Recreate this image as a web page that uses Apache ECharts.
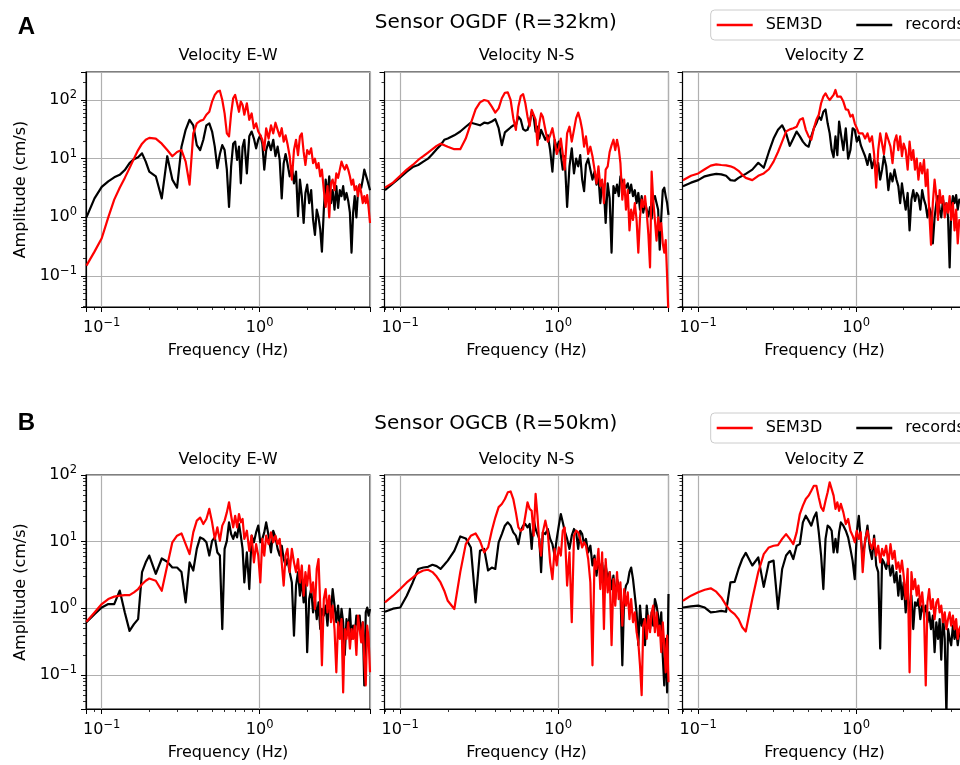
<!DOCTYPE html>
<html><head><meta charset="utf-8">
<script src="https://cdn.jsdelivr.net/npm/echarts@6/dist/echarts.min.js"></script>
<style>html,body{margin:0;padding:0;background:#fff}#c{width:960px;height:765px}</style>
</head><body><div id="c"></div>
<script>
const freq = [0.08,0.09,0.10,0.11,0.12,0.13,0.14,0.15,0.16,0.17,0.18,0.19,0.20,
 0.22,0.24,0.26,0.28,0.30,0.32,0.34,0.36,0.38,0.40,0.42,0.44,0.46,0.48,0.50,0.52,0.54,0.56,0.58,0.60,0.62,0.64,0.66,0.68,0.70,0.72,0.74,0.76,0.78,0.80,
 0.83,0.86,0.89,0.92,0.95,0.98,1.01,1.04,1.07,1.10,
 1.14,1.18,1.22,1.26,1.30,1.34,1.38,1.42,1.46,1.50,
 1.55,1.60,1.65,1.70,1.75,1.80,1.85,1.90,1.95,2.00,
 2.06,2.12,2.18,2.24,2.30,2.36,2.42,2.48,
 2.55,2.62,2.69,2.76,2.83,2.90,
 2.98,3.06,3.14,3.22,3.30,3.38,3.46,
 3.55,3.64,3.73,3.82,3.91,4.00,
 4.10,4.20,4.30,4.40,4.50,4.60,4.70,4.80,4.90,5.00];
const ogdfEWrec = [1.0,2.1,3.3,4.1,4.8,5.3,6.4,8.4,9.8,10.6,12.3,8.9,6.0,
 5.0,2.1,11,4.4,3.2,16,31,46,37,17,14,21,37,40,29,16,6.9,12,17,14,6.5,1.5,7.4,18,19.5,9.5,16,3.8,16,21,
 5.6,24,29,22,15,21,25,18,6.5,14,
 19.5,14,21,11,16,9.5,2.1,8.3,12,8.3,
 5.0,7.4,3.8,6.0,1.05,4.4,2.3,0.8,2.6,3.6,
 1.75,2.9,0.91,0.5,1.35,1.0,0.62,0.26,
 1.35,4.4,2.3,5.0,1.75,2.9,
 1.35,3.4,1.45,2.9,2.3,3.4,2.0,
 2.6,1.9,1.2,0.25,1.2,2.3,
 1.0,2.9,3.6,3.2,4.4,6.5,6.5,4.4,4.7,2.9];
const ogdfEWsem = [0.15,0.26,0.44,1.0,2.0,3.2,4.7,6.9,10,14,18,21,22.6,
 22,18,14,11,13,14,8.9,3.6,27,40,44,46,56,63,94,122,139,144,100,59,27,24,59,107,122,88,63,94,82,56,
 88,46,59,33,40,29,25,21,14,33,
 22,37,27,41,31,24,33,19.5,25,18,
 11,4.4,14,21,11.5,24,27,13,7.8,14,
 12,15,8.4,10,6.9,8.4,5.0,6.5,
 2.9,1.5,3.4,1.0,3.8,4.4,
 2.9,5.6,4.7,6.5,8.9,7.4,6.5,
 7.8,6.5,5.0,3.6,4.4,2.9,
 3.4,2.3,3.6,2.6,1.75,2.3,1.75,2.4,1.45,0.8];
const ogdfNSrec = [2.9,3.8,4.8,6.0,7.2,7.8,8.9,10,12,14.5,17,21,22,
 25,29,35,41,39,37,41,40,43,47,33,17,28,31,34,37,37,52,46,32,30,31,40,63,52,29,35,22,31,33,
 21,25,14,6.0,21,15,19.5,11.5,6.5,11,
 1.5,7.4,15,5.6,10,7.4,11.5,4.4,2.8,7.8,
 10,6.5,4.4,6.0,3.6,5.0,1.75,3.8,2.9,0.8,
 3.8,2.1,0.25,3.4,2.6,3.6,2.3,5.0,
 4.1,4.4,3.2,3.8,2.6,3.6,
 2.3,2.9,1.75,2.6,1.35,2.3,1.2,
 1.75,1.35,1.04,1.5,0.95,2.0,
 2.3,1.75,1.35,0.28,1.0,2.9,3.2,2.3,1.75,1.1];
const ogdfNSsem = [3.2,3.9,5.1,6.5,7.8,9.5,11,12.7,14.5,16.5,18,17,16,
 14.5,14.5,22,40,69,91,100,96,77,61,72,107,133,135,100,49,31,77,117,126,88,52,36,68,69,46,17,40,59,52,
 31,19.5,25,33,21,12,15,22,12,6.5,
 27,35,19.5,31,49,61,46,31,16,24,
 12,16,11,6.5,3.8,7.4,3.4,4.4,1.75,6.5,
 7.4,13,17,21,14,21,15,8.4,
 2.0,4.4,1.35,2.9,0.6,1.35,
 0.9,1.75,0.9,0.25,1.0,2.0,1.5,
 2.3,1.2,0.5,0.14,6.0,2.0,
 0.9,0.4,1.0,0.6,0.8,0.36,0.25,0.41,0.1,0.02];
const ogdfZrec = [3.4,3.9,4.3,5.0,5.3,5.5,5.4,5.1,4.3,4.2,4.7,5.1,5.5,
 6.5,8.5,7.0,13,22,31,37,27,16.5,22,29,24,19.5,17,16,24,33,40,52,46,63,69,40,27,14,10.6,24,11.5,43,27,
 14,33,10,14,33,31,19.5,24,17,14,
 11,7.8,12,6.9,9.5,6.5,8.4,4.4,6.5,11,
 7.4,2.9,5.6,4.1,6.5,4.4,3.4,1.75,3.8,2.3,
 1.35,2.6,0.6,2.0,2.9,1.9,2.6,2.3,
 1.35,2.9,2.0,1.6,1.0,1.5,
 1.2,0.36,1.0,1.75,2.3,1.35,1.0,
 2.0,1.35,1.75,1.0,0.14,1.35,
 2.3,1.75,2.4,1.35,2.0,1.8,1.5,2.0,1.6,1.4];
const ogdfZsem = [4.3,5.1,5.6,6.6,7.6,8.0,7.8,7.7,7.4,6.9,6.2,5.3,4.7,
 4.3,5.1,5.6,6.6,8.9,13,19.5,29,31.6,33,35,46,49,31,24,21,33,46,56,88,114,130,111,100,94,122,148,114,107,114,
 94,69,68,52,56,40,33,27,25,27,
 22,27,19.5,24,12,3.2,14,27,18,12,
 27,21,16,8.4,19.5,25,14,24,11,18,
 14,6.5,19.5,9.5,14,6.5,10,4.4,
 8.4,5.6,9.5,3.4,6.5,1.35,
 0.34,1.75,4.4,2.3,0.9,2.9,1.75,
 2.3,1.0,1.75,1.2,2.3,0.9,
 1.75,0.6,1.35,0.36,0.9,0.8,1.1,0.7,0.9,0.6];
const ogcbEWrec = [0.62,0.82,1.03,1.16,1.16,1.85,0.87,0.46,0.58,0.69,3.5,4.9,6.2,
 3.3,5.6,5.0,4.1,4.1,3.5,1.23,4.9,3.7,7.8,11.6,11,9.8,6.2,10.3,11.6,6.9,6.2,0.49,7.8,10.3,19.5,13,11,13.8,11.6,18.4,12.3,7.8,2.45,
 6.9,1.95,12.3,9.8,13.8,17.4,9.8,11,13.8,19.5,
 12.3,6.9,14.6,11.6,7.8,6.2,8.7,5.5,4.4,5.5,
 3.5,2.45,0.39,2.2,3.5,1.55,2.75,1.23,2.45,0.22,
 1.38,1.95,0.87,1.38,0.69,1.23,0.49,0.98,
 0.78,1.1,0.55,1.38,0.87,1.95,
 1.1,0.62,1.1,0.44,0.98,0.62,0.2,
 0.69,0.44,0.98,0.35,0.55,0.39,
 0.78,0.55,0.78,0.35,0.62,0.07,0.87,1.03,0.78,0.98];
const ogcbEWsem = [0.63,0.87,1.16,1.38,1.5,1.55,1.58,1.58,1.74,1.95,2.3,2.6,2.8,
 2.6,1.84,4.4,9.8,12.3,13.3,9.2,6.5,13.8,20.7,23,18.4,21.9,31,19.5,11,16.4,10.3,17.4,20.7,27.5,39,24.5,16.4,24.5,16.4,26,19.5,21.9,11,
 14.6,7.3,12.3,4.9,9.2,6.2,2.45,11,6.2,12.3,
 9.2,13.8,9.8,12.3,9.2,11,4.9,2.2,6.2,7.8,
 3.5,7.8,4.9,3.5,5.5,2.45,4.4,1.55,3.5,2.2,
 4.4,1.74,2.45,0.98,3.9,5.5,1.1,0.14,
 1.38,1.95,0.87,1.55,0.62,1.1,
 0.49,0.11,0.62,0.35,0.69,0.055,0.49,
 0.35,0.62,0.25,0.49,0.35,0.55,
 0.2,0.78,0.82,0.31,0.62,0.17,0.07,0.55,0.35,0.11];
const ogcbNSrec = [0.89,0.99,1.03,1.55,2.45,3.9,4.1,4.2,4.5,4.3,3.9,4.5,5.2,
 7.3,12,11.2,8.2,1.23,7.3,7.8,3.7,4.1,3.9,9.8,13,17.4,19.5,17.4,13.8,12.3,9.2,14.6,17.4,18.4,16.4,18.4,7.8,21.9,15.5,13,11,3.5,13.8,
 13,15.5,11,9.2,6.2,11,17.4,26,19.5,14.6,
 11,7.8,12.3,15.5,13.8,7.8,14.6,13,9.2,11,
 6.9,8.7,4.4,6.2,3.1,5.5,3.5,4.9,2.45,4.4,
 2.75,3.5,1.95,3.1,1.38,2.75,2.2,1.95,
 0.14,1.55,2.2,2.45,3.5,4.1,
 2.75,1.55,0.87,0.28,1.1,0.55,0.69,
 0.28,1.1,0.62,0.49,0.87,0.55,
 1.38,1.1,0.78,0.44,0.87,0.19,0.07,0.35,0.055,1.64];
const ogcbNSsem = [1.23,1.55,1.95,2.45,2.9,3.4,3.7,3.8,3.5,3.0,2.45,1.84,1.3,
 0.98,3.5,9.2,12.3,13.3,10.3,6.9,8.2,14.6,23,33,36.7,43.6,55,56.6,43.6,27.5,16.4,14.6,15.5,24.5,39,31,29,12.3,52,24.5,9.2,6.2,13.8,
 20.7,13.8,4.9,2.75,7.8,4.4,8.2,6.2,14.6,16.4,
 2.2,6.9,0.62,12.3,14.6,13.8,11,8.2,9.8,8.7,
 5.5,2.45,0.14,5.5,3.9,7.8,1.95,6.9,0.49,5.5,
 1.74,3.5,0.28,2.75,1.1,3.5,1.38,2.45,
 0.55,1.95,1.1,1.74,0.69,1.38,
 0.62,0.87,0.44,0.31,0.14,0.05,0.55,
 0.69,0.35,0.78,0.44,0.87,1.1,
 0.44,0.87,0.39,0.55,0.22,0.62,0.28,0.11,0.39,0.078];
const ogcbZrec = [1.03,1.07,1.1,1.03,0.87,0.89,0.92,0.89,2.45,2.5,3.9,5.5,6.8,
 4.4,5.8,2.1,4.9,5.2,0.98,3.9,6.2,7.3,5.5,8.7,9.2,19.5,24.5,20.7,17.4,23,27.5,13.8,6.2,1.95,11,17.4,16.4,14.6,6.9,11,6.9,13.8,19.5,
 17.4,14.6,11.6,7.8,5.2,2.75,13.8,24.5,11,6.2,
 9.8,17.4,7.8,5.5,12.3,4.4,3.5,0.25,5.5,4.9,
 3.9,5.5,3.1,4.4,2.45,3.5,1.55,3.1,1.38,2.45,
 0.87,1.95,0.78,1.55,0.49,1.23,1.1,1.38,
 0.69,1.1,0.87,1.1,0.62,0.87,
 0.49,0.78,0.22,0.62,0.35,0.69,0.17,
 0.78,0.35,0.025,0.49,0.35,0.28,
 0.55,0.35,0.49,0.28,0.44,0.4,0.3,0.45,0.35,0.3];
const ogcbZsem = [1.3,1.55,1.74,1.9,2.0,1.78,1.46,1.12,0.92,0.82,0.69,0.52,0.45,
 1.38,3.5,6.5,8.2,8.7,8.9,11,13,11,9.2,13.8,26,34.7,43.6,49,58,69,69,46,32.7,29,41,55,77.6,77.6,49,31,39,29,37,
 27.5,18.4,21.9,14.6,12.3,9.8,14.6,11,13.8,3.5,
 11,14.6,9.8,7.8,11,6.2,8.7,4.9,7.8,6.2,
 8.7,4.6,9.2,5.5,7.3,3.9,4.9,3.5,5.2,3.1,
 1.38,3.9,0.11,3.5,1.95,2.75,1.55,2.2,
 1.1,1.74,0.87,0.07,1.23,1.95,
 0.98,1.38,0.69,1.23,1.38,0.87,1.1,
 0.62,0.87,0.49,0.69,0.87,0.55,
 0.78,0.49,0.69,0.35,0.49,0.55,0.4,0.5,0.35,0.45];

const panelTitles = ['Velocity E-W', 'Velocity N-S', 'Velocity Z'];
const sensorTitles = ['Sensor OGDF (R=32km)', 'Sensor OGCB (R=50km)'];
const rowLetters = ['A', 'B'];
const seriesNames = ['SEM3D', 'records'];
const xTitle = 'Frequency (Hz)';
const yTitle = 'Amplitude (cm/s)';
const xMinorTicks = [0.08,0.09,0.2,0.3,0.4,0.5,0.6,0.7,0.8,0.9,2,3,4,5];
const yMinorTicksTop = [0.03,0.04,0.05,0.06,0.07,0.08,0.09,0.2,0.3,0.4,0.5,0.6,0.7,0.8,0.9,2,3,4,5,6,7,8,9,20,30,40,50,60,70,80,90,200,300];
const yMinorTicksBottom = [0.04,0.05,0.06,0.07,0.08,0.09,0.2,0.3,0.4,0.5,0.6,0.7,0.8,0.9,2,3,4,5,6,7,8,9,20,30,40,50,60,70,80,90];

const panels = [
  {row:0, col:0, rec:ogdfEWrec, sem:ogdfEWsem},
  {row:0, col:1, rec:ogdfNSrec, sem:ogdfNSsem},
  {row:0, col:2, rec:ogdfZrec,  sem:ogdfZsem},
  {row:1, col:0, rec:ogcbEWrec, sem:ogcbEWsem},
  {row:1, col:1, rec:ogcbNSrec, sem:ogcbNSsem},
  {row:1, col:2, rec:ogcbZrec,  sem:ogcbZsem}
];

const FONT = 'DejaVu Sans';
const colLeft = [86, 384.5, 682.5];
const colWidth = 284;
const rowTop = [72, 475];
const rowHeight = [235, 234];
const xRange = [0.0795, 5.0];
const yRange = [[0.0296, 300], [0.031, 100]];
const RED = '#ff0000', BLACK = '#000000';

function powLabel(v) {
  const e = Math.log10(v);
  const r = Math.round(e);
  if (Math.abs(e - r) > 1e-3) return '';
  const s = r < 0 ? '\u2212' + (-r) : String(r);
  return '{b|10}{s|' + s + '}';
}
const RICH = {
  b: {fontSize: 16, fontFamily: FONT, color: '#000', lineHeight: 22},
  s: {fontSize: 11.5, fontFamily: FONT, color: '#000', lineHeight: 22, verticalAlign: 'top'}
};

const grid = [], xAxis = [], yAxis = [], series = [];
panels.forEach((p, i) => {
  grid.push({
    left: colLeft[p.col], top: rowTop[p.row], width: colWidth, height: rowHeight[p.row],
    show: true, borderColor: '#000', borderWidth: 1.1, backgroundColor: 'transparent',
    containLabel: false, outerBoundsMode: 'none'
  });
  xAxis.push({
    type: 'log', logBase: 10, gridIndex: i, min: xRange[0], max: xRange[1], position: 'bottom',
    axisLine: {show: true, lineStyle: {color: '#000', width: 1.1}},
    axisTick: {show: true, length: 5, lineStyle: {color: '#000', width: 1}},
    axisLabel: {show: true, formatter: powLabel, rich: RICH, margin: 10, color: '#000'},
    splitLine: {show: true, lineStyle: {color: '#b0b0b0', width: 1.2}},
    minorTick: {show: false}, minorSplitLine: {show: false},
    name: xTitle, nameLocation: 'middle', nameGap: 35.5,
    nameTextStyle: {fontSize: 16, fontFamily: FONT, color: '#000'}
  });
  // minor ticks (matplotlib-style 2..9 x 10^n)
  xAxis.push({
    type: 'log', logBase: 10, gridIndex: i, min: xRange[0], max: xRange[1], position: 'bottom', offset: 0,
    axisLine: {show: false},
    axisTick: {show: true, inside: false, length: 3, customValues: xMinorTicks, lineStyle: {color: '#000', width: 0.8}},
    axisLabel: {show: false}, splitLine: {show: false}
  });
  const yr = yRange[p.row];
  yAxis.push({
    type: 'log', logBase: 10, gridIndex: i, min: yr[0], max: yr[1], position: 'left',
    axisLine: {show: true, lineStyle: {color: '#000', width: 1.1}},
    axisTick: {show: true, length: 5, lineStyle: {color: '#000', width: 1}},
    axisLabel: {show: p.col === 0, formatter: powLabel, rich: RICH, margin: 9, color: '#000'},
    splitLine: {show: true, lineStyle: {color: '#b0b0b0', width: 1.2}},
    minorTick: {show: false}, minorSplitLine: {show: false},
    name: p.col === 0 ? yTitle : '', nameLocation: 'middle', nameGap: 57.5, nameRotate: 90,
    nameTextStyle: {fontSize: 16, fontFamily: FONT, color: '#000'}
  });
  yAxis.push({
    type: 'log', logBase: 10, gridIndex: i, min: yr[0], max: yr[1], position: 'left', offset: 0,
    axisLine: {show: false},
    axisTick: {show: true, inside: false, length: 3, customValues: p.row === 0 ? yMinorTicksTop : yMinorTicksBottom,
               lineStyle: {color: '#000', width: 0.8}},
    axisLabel: {show: false}, splitLine: {show: false}
  });
  const n = Math.min(freq.length, p.rec.length, p.sem.length);
  const recData = [], semData = [];
  for (let k = 0; k < n; k++) { recData.push([freq[k], p.rec[k]]); semData.push([freq[k], p.sem[k]]); }
  series.push({
    name: 'records', type: 'line', xAxisIndex: 2 * i, yAxisIndex: 2 * i, data: recData,
    showSymbol: false, symbol: 'none', clip: true, color: BLACK,
    lineStyle: {color: BLACK, width: 2.2, join: 'round'}, z: 2, emphasis: {disabled: true}
  });
  series.push({
    name: 'SEM3D', type: 'line', xAxisIndex: 2 * i, yAxisIndex: 2 * i, data: semData,
    showSymbol: false, symbol: 'none', clip: true, color: RED,
    lineStyle: {color: RED, width: 2.2, join: 'round'}, z: 3, emphasis: {disabled: true}
  });
});

function txt(text, x, y, size, weight, family) {
  return {type: 'text', x: x, y: y, silent: true,
    style: {text: text, fontSize: size, fontWeight: weight || 'normal', fontFamily: family || FONT, fill: '#000',
            align: 'center', verticalAlign: 'middle', textAlign: 'center', textVerticalAlign: 'middle'}};
}
const graphic = [];
const titleY = [56.3, 459.5];
const sensorY = [22.4, 424];
const letterY = [27, 423.5];
[0, 1].forEach(r => {
  graphic.push(txt(rowLetters[r], 26.5, letterY[r], 24, 'bold', 'Liberation Sans'));
  graphic.push(txt(sensorTitles[r], 495.8, sensorY[r], 20));
  for (let c = 0; c < 3; c++) graphic.push(txt(panelTitles[c], colLeft[c] + colWidth / 2, titleY[r], 16));
});

const legend = [10, 413].map(t => ({
  data: seriesNames, left: 710.7, top: t, width: 320, orient: 'horizontal',
  itemWidth: 36, itemHeight: 2.5, itemGap: 34, icon: 'rect',
  padding: [7, 10, 7, 6], borderColor: '#cccccc', borderWidth: 1, borderRadius: 4,
  backgroundColor: 'rgba(255,255,255,0.9)', selectedMode: false,
  textStyle: {fontSize: 16, fontFamily: FONT, color: '#000', padding: [0, 0, 0, 8]}
}));

const chart = echarts.init(document.getElementById('c'), null, {renderer: 'canvas', width: 960, height: 765});
chart.setOption({
  animation: false,
  backgroundColor: '#ffffff',
  textStyle: {fontFamily: FONT},
  grid: grid, xAxis: xAxis, yAxis: yAxis, series: series,
  legend: legend, graphic: graphic
});
</script></body></html>
